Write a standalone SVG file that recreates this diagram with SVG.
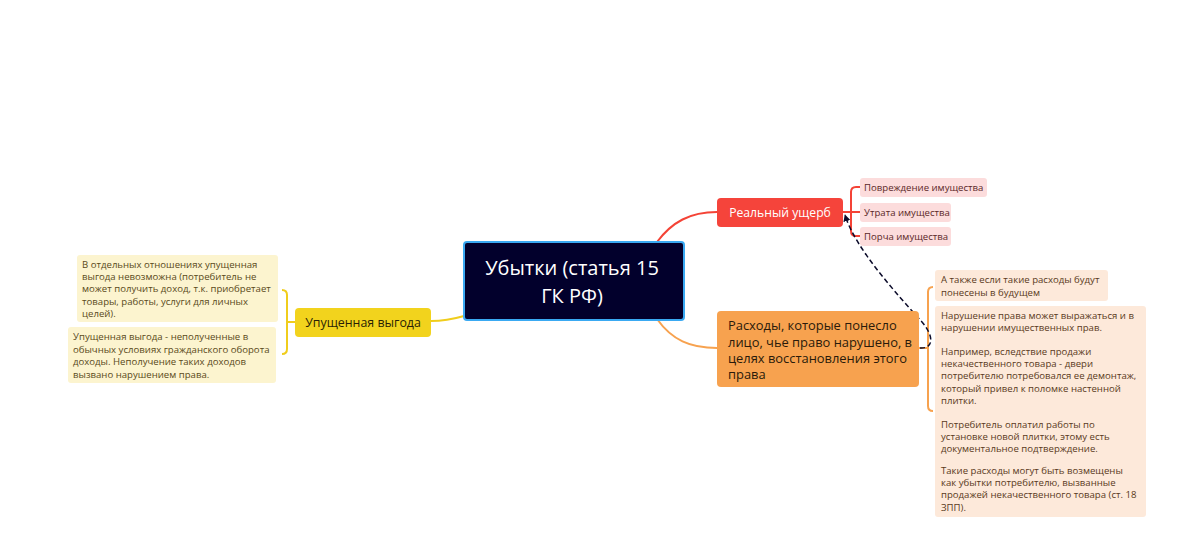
<svg xmlns="http://www.w3.org/2000/svg" width="1200" height="555" viewBox="0 0 1200 555">
<defs>
<style>
text{font-family:"Open Sans","Noto Sans",sans-serif}
.sm{font-size:9.6px}
.rc{fill:#fcdcdc}
.rt{fill:#5b2828}
.oc{fill:#fde9da}
.ot{fill:#5a3a1c}
.yc{fill:#fcf4cf}
.yt{fill:#5a4a1a}
.conn{fill:none;stroke-width:2}
</style>
<marker id="ah" viewBox="0 0 10 10" refX="9" refY="5" markerWidth="7" markerHeight="7" orient="auto-start-reverse" markerUnits="userSpaceOnUse">
<path d="M0,0 L10,5 L0,10 z" fill="#0b0b2a"/>
</marker>
</defs>
<rect width="1200" height="555" fill="#ffffff"/>
<g id="connectors">
<path class="conn" d="M657,242 C672,222 690,212 717,212" stroke="#f44336"/>
<path class="conn" d="M657,319 C672,340 690,348 717,348" stroke="#f7a24f"/>
<path class="conn" d="M464,316 C450,320 440,321 431,321" stroke="#f0cd1c"/>
<path class="conn" stroke="#f44336" stroke-width="1.5" d="M843,212 L851,212 M860,187 L856,187 Q851,187 851,192 L851,231 Q851,236 856,236 L860,236 M851,212 L860,212"/>
<path class="conn" stroke="#f7a24f" stroke-width="1.5" d="M919,348 L928,348 M933,287 Q928,287 928,292 L928,406 Q928,411 933,411"/>
<path class="conn" stroke="#f0cd1c" stroke-width="1.5" d="M295,322 L287,322 M282,290 Q287,290 287,295 L287,349 Q287,354 282,354"/>
<path fill="none" stroke="#0b0b2a" stroke-width="1.5" stroke-dasharray="5,3" marker-end="url(#ah)" d="M920,348 C934,349 934,336 922,322 C895,292 855,248 845,215"/>
</g>
<g id="central">
<rect x="464" y="242" width="220" height="78" rx="3" fill="#02002c" stroke="#3aa9f2" stroke-width="2"/>
<text x="572" y="275" text-anchor="middle" font-size="20" fill="#ffffff">Убытки (статья 15</text>
<text x="572" y="303" text-anchor="middle" font-size="20" fill="#ffffff">ГК РФ)</text>
</g>
<g id="real">
<rect x="717" y="198" width="126" height="29" rx="4" fill="#f5443b"/>
<text x="780" y="217" text-anchor="middle" font-size="12.2" fill="#ffffff">Реальный ущерб</text>
</g>
<g id="real-1">
<rect class="rc" x="860" y="178" width="127" height="19" rx="3"/>
<text class="sm rt" x="864" y="191">Повреждение имущества</text>
</g>
<g id="real-2">
<rect class="rc" x="860" y="203" width="91" height="19" rx="3"/>
<text class="sm rt" x="864" y="216">Утрата имущества</text>
</g>
<g id="real-3">
<rect class="rc" x="860" y="227" width="91" height="19" rx="3"/>
<text class="sm rt" x="864" y="240">Порча имущества</text>
</g>
<g id="expenses">
<rect x="717" y="311" width="202" height="76" rx="4" fill="#f7a24f"/>
<text font-size="12.9" fill="#2a1a0a"><tspan x="728" y="330">Расходы, которые понесло</tspan><tspan x="728" y="347">лицо, чье право нарушено, в</tspan><tspan x="728" y="363">целях восстановления этого</tspan><tspan x="728" y="379">права</tspan></text>
</g>
<g id="expenses-1">
<rect class="oc" x="935" y="270" width="173" height="31" rx="3"/>
<text class="sm ot"><tspan x="941" y="283">А также если такие расходы будут</tspan><tspan x="941" y="296">понесены в будущем</tspan></text>
</g>
<g id="expenses-2">
<rect class="oc" x="935" y="306" width="211" height="211" rx="3"/>
<text class="sm ot"><tspan x="941" y="319">Нарушение права может выражаться и в</tspan><tspan x="941" y="331">нарушении имущественных прав.</tspan><tspan x="941" y="355">Например, вследствие продажи</tspan><tspan x="941" y="367">некачественного товара - двери</tspan><tspan x="941" y="379">потребителю потребовался  ее демонтаж,</tspan><tspan x="941" y="392">который привел к поломке настенной</tspan><tspan x="941" y="404">плитки.</tspan><tspan x="941" y="428">Потребитель оплатил работы по</tspan><tspan x="941" y="440">установке новой плитки, этому есть</tspan><tspan x="941" y="452">документальное подтверждение.</tspan><tspan x="941" y="474">Такие расходы могут быть возмещены</tspan><tspan x="941" y="486">как убытки потребителю, вызванные</tspan><tspan x="941" y="498">продажей некачественного товара (ст. 18</tspan><tspan x="941" y="511">ЗПП).</tspan></text>
</g>
<g id="lost">
<rect x="295" y="308" width="136" height="29" rx="4" fill="#f2d31d"/>
<text x="363" y="327" text-anchor="middle" font-size="12.4" fill="#2a1f05">Упущенная выгода</text>
</g>
<g id="lost-1">
<rect class="yc" x="77" y="255" width="201" height="67" rx="3"/>
<text class="sm yt"><tspan x="82" y="268">В отдельных отношениях упущенная</tspan><tspan x="82" y="280">выгода невозможна (потребитель не</tspan><tspan x="82" y="292">может получить доход, т.к. приобретает</tspan><tspan x="82" y="305">товары, работы, услуги для личных</tspan><tspan x="82" y="317">целей).</tspan></text>
</g>
<g id="lost-2">
<rect class="yc" x="68" y="327" width="208" height="56" rx="3"/>
<text class="sm yt"><tspan x="73" y="340">Упущенная выгода - неполученные в</tspan><tspan x="73" y="353">обычных условиях гражданского оборота</tspan><tspan x="73" y="365">доходы. Неполучение таких доходов</tspan><tspan x="73" y="378">вызвано нарушением права.</tspan></text>
</g>
</svg>
